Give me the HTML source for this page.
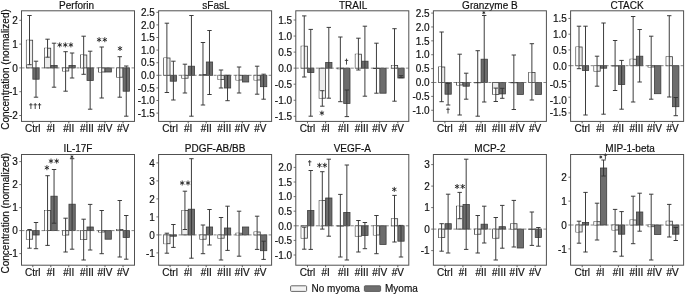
<!DOCTYPE html>
<html><head><meta charset="utf-8"><style>
html,body{margin:0;padding:0;background:#fff;}
svg{display:block;filter:grayscale(1);}
text{font-family:"Liberation Sans",sans-serif;font-size:10px;fill:#111;stroke:#111;stroke-width:0.18px;}
</style></head><body>
<svg width="685" height="294" viewBox="0 0 685 294">
<rect width="685" height="294" fill="#fff"/>
<text x="76.6" y="8.9" text-anchor="middle">Perforin</text>
<rect x="26.35" y="40.20" width="6.30" height="27.70" fill="#ececec" stroke="#3c3c3c" stroke-width="0.8"/>
<rect x="26.75" y="40.20" width="2.75" height="24.50" fill="#fff"/>
<rect x="32.85" y="67.90" width="6.30" height="11.30" fill="#6d6d6d" stroke="#3c3c3c" stroke-width="0.8"/>
<path d="M29.50 15.50V64.70M27.30 15.50h4.4M27.30 64.70h4.4" stroke="#333" stroke-width="0.95" fill="none"/>
<path d="M36.00 61.20V97.20M33.80 61.20h4.4M33.80 97.20h4.4" stroke="#333" stroke-width="0.95" fill="none"/>
<rect x="44.40" y="48.20" width="6.30" height="19.70" fill="#ececec" stroke="#3c3c3c" stroke-width="0.8"/>
<rect x="44.80" y="48.20" width="2.75" height="9.00" fill="#fff"/>
<rect x="50.90" y="65.50" width="6.30" height="2.40" fill="#6d6d6d" stroke="#3c3c3c" stroke-width="0.8"/>
<path d="M47.55 39.20V57.20M45.35 39.20h4.4M45.35 57.20h4.4" stroke="#333" stroke-width="0.95" fill="none"/>
<path d="M54.05 43.20V87.20M51.85 43.20h4.4M51.85 87.20h4.4" stroke="#333" stroke-width="0.95" fill="none"/>
<rect x="62.45" y="67.90" width="6.30" height="3.10" fill="#ececec" stroke="#3c3c3c" stroke-width="0.8"/>
<rect x="62.85" y="67.90" width="2.75" height="3.10" fill="#fff"/>
<rect x="68.95" y="65.50" width="6.30" height="2.40" fill="#6d6d6d" stroke="#3c3c3c" stroke-width="0.8"/>
<path d="M65.60 51.70V91.20M63.40 51.70h4.4M63.40 91.20h4.4" stroke="#333" stroke-width="0.95" fill="none"/>
<path d="M72.10 53.00V78.00M69.90 53.00h4.4M69.90 78.00h4.4" stroke="#333" stroke-width="0.95" fill="none"/>
<rect x="80.50" y="55.00" width="6.30" height="12.90" fill="#ececec" stroke="#3c3c3c" stroke-width="0.8"/>
<rect x="80.90" y="55.00" width="2.75" height="12.90" fill="#fff"/>
<rect x="87.00" y="67.90" width="6.30" height="12.60" fill="#6d6d6d" stroke="#3c3c3c" stroke-width="0.8"/>
<path d="M83.65 36.20V74.30M81.45 36.20h4.4M81.45 74.30h4.4" stroke="#333" stroke-width="0.95" fill="none"/>
<path d="M90.15 51.20V109.20M87.95 51.20h4.4M87.95 109.20h4.4" stroke="#333" stroke-width="0.95" fill="none"/>
<rect x="98.55" y="67.90" width="6.30" height="4.10" fill="#ececec" stroke="#3c3c3c" stroke-width="0.8"/>
<rect x="98.95" y="67.90" width="2.75" height="4.10" fill="#fff"/>
<rect x="105.05" y="67.90" width="6.30" height="4.10" fill="#6d6d6d" stroke="#3c3c3c" stroke-width="0.8"/>
<path d="M101.70 47.00V98.00M99.50 47.00h4.4M99.50 98.00h4.4" stroke="#333" stroke-width="0.95" fill="none"/>
<rect x="116.60" y="67.90" width="6.30" height="9.30" fill="#ececec" stroke="#3c3c3c" stroke-width="0.8"/>
<rect x="117.00" y="67.90" width="2.75" height="9.30" fill="#fff"/>
<rect x="123.10" y="67.90" width="6.30" height="23.30" fill="#6d6d6d" stroke="#3c3c3c" stroke-width="0.8"/>
<path d="M119.75 56.70V97.20M117.55 56.70h4.4M117.55 97.20h4.4" stroke="#333" stroke-width="0.95" fill="none"/>
<path d="M126.25 66.00V116.20M124.05 66.00h4.4M124.05 116.20h4.4" stroke="#333" stroke-width="0.95" fill="none"/>
<line x1="21.5" y1="67.90" x2="134.5" y2="67.90" stroke="#666" stroke-width="0.8" stroke-dasharray="3 2"/>
<rect x="21.50" y="10.80" width="113.00" height="110.60" fill="none" stroke="#505050" stroke-width="1"/>
<line x1="19.3" y1="115.50" x2="21.5" y2="115.50" stroke="#505050" stroke-width="0.8"/>
<text x="17.8" y="119.20" text-anchor="end">-2</text>
<line x1="19.3" y1="91.70" x2="21.5" y2="91.70" stroke="#505050" stroke-width="0.8"/>
<text x="17.8" y="95.40" text-anchor="end">-1</text>
<line x1="19.3" y1="67.90" x2="21.5" y2="67.90" stroke="#505050" stroke-width="0.8"/>
<text x="17.8" y="71.60" text-anchor="end">0</text>
<line x1="19.3" y1="44.10" x2="21.5" y2="44.10" stroke="#505050" stroke-width="0.8"/>
<text x="17.8" y="47.80" text-anchor="end">1</text>
<line x1="19.3" y1="20.30" x2="21.5" y2="20.30" stroke="#505050" stroke-width="0.8"/>
<text x="17.8" y="24.00" text-anchor="end">2</text>
<line x1="32.8" y1="121.4" x2="32.8" y2="123.4" stroke="#505050" stroke-width="0.9"/>
<text x="32.8" y="132.2" text-anchor="middle">Ctrl</text>
<line x1="50.8" y1="121.4" x2="50.8" y2="123.4" stroke="#505050" stroke-width="0.9"/>
<text x="50.8" y="132.2" text-anchor="middle">#I</text>
<line x1="68.8" y1="121.4" x2="68.8" y2="123.4" stroke="#505050" stroke-width="0.9"/>
<text x="68.8" y="132.2" text-anchor="middle">#II</text>
<line x1="86.9" y1="121.4" x2="86.9" y2="123.4" stroke="#505050" stroke-width="0.9"/>
<text x="86.9" y="132.2" text-anchor="middle">#III</text>
<line x1="105.0" y1="121.4" x2="105.0" y2="123.4" stroke="#505050" stroke-width="0.9"/>
<text x="105.0" y="132.2" text-anchor="middle">#IV</text>
<line x1="123.0" y1="121.4" x2="123.0" y2="123.4" stroke="#505050" stroke-width="0.9"/>
<text x="123.0" y="132.2" text-anchor="middle">#V</text>
<path d="M59.70 42.40V47.40M57.53 43.65L61.87 46.15M57.53 46.15L61.87 43.65" stroke="#1a1a1a" stroke-width="0.85" fill="none"/>
<path d="M65.30 42.40V47.40M63.13 43.65L67.47 46.15M63.13 46.15L67.47 43.65" stroke="#1a1a1a" stroke-width="0.85" fill="none"/>
<path d="M70.90 42.40V47.40M68.73 43.65L73.07 46.15M68.73 46.15L73.07 43.65" stroke="#1a1a1a" stroke-width="0.85" fill="none"/>
<path d="M99.10 37.20V42.20M96.93 38.45L101.27 40.95M96.93 40.95L101.27 38.45" stroke="#1a1a1a" stroke-width="0.85" fill="none"/>
<path d="M104.80 37.20V42.20M102.63 38.45L106.97 40.95M102.63 40.95L106.97 38.45" stroke="#1a1a1a" stroke-width="0.85" fill="none"/>
<path d="M120.00 46.00V51.00M117.83 47.25L122.17 49.75M117.83 49.75L122.17 47.25" stroke="#1a1a1a" stroke-width="0.85" fill="none"/>
<path d="M30.90 103.00V109.00M29.20 104.80h3.4" stroke="#333" stroke-width="0.9" fill="none"/>
<path d="M35.20 103.00V109.00M33.50 104.80h3.4" stroke="#333" stroke-width="0.9" fill="none"/>
<path d="M39.50 103.00V109.00M37.80 104.80h3.4" stroke="#333" stroke-width="0.9" fill="none"/>
<text x="215.9" y="8.9" text-anchor="middle">sFasL</text>
<rect x="163.72" y="58.00" width="6.30" height="17.30" fill="#ececec" stroke="#3c3c3c" stroke-width="0.8"/>
<rect x="164.12" y="58.00" width="2.75" height="17.30" fill="#fff"/>
<rect x="170.22" y="75.30" width="6.30" height="5.90" fill="#6d6d6d" stroke="#3c3c3c" stroke-width="0.8"/>
<path d="M166.88 23.20V92.50M164.68 23.20h4.4M164.68 92.50h4.4" stroke="#333" stroke-width="0.95" fill="none"/>
<path d="M173.38 61.20V100.00M171.18 61.20h4.4M171.18 100.00h4.4" stroke="#333" stroke-width="0.95" fill="none"/>
<rect x="181.78" y="75.30" width="6.30" height="2.90" fill="#ececec" stroke="#3c3c3c" stroke-width="0.8"/>
<rect x="182.18" y="75.30" width="2.75" height="2.90" fill="#fff"/>
<rect x="188.28" y="66.20" width="6.30" height="9.10" fill="#6d6d6d" stroke="#3c3c3c" stroke-width="0.8"/>
<path d="M184.93 64.20V93.00M182.73 64.20h4.4M182.73 93.00h4.4" stroke="#333" stroke-width="0.95" fill="none"/>
<path d="M191.43 15.50V116.20M189.23 15.50h4.4M189.23 116.20h4.4" stroke="#333" stroke-width="0.95" fill="none"/>
<rect x="199.82" y="74.50" width="6.30" height="0.80" fill="#ececec" stroke="#3c3c3c" stroke-width="0.8"/>
<rect x="200.22" y="74.50" width="2.75" height="0.80" fill="#fff"/>
<rect x="206.32" y="62.00" width="6.30" height="13.30" fill="#6d6d6d" stroke="#3c3c3c" stroke-width="0.8"/>
<path d="M202.97 42.50V105.00M200.78 42.50h4.4M200.78 105.00h4.4" stroke="#333" stroke-width="0.95" fill="none"/>
<path d="M209.47 30.50V94.50M207.28 30.50h4.4M207.28 94.50h4.4" stroke="#333" stroke-width="0.95" fill="none"/>
<rect x="217.88" y="75.30" width="6.30" height="4.20" fill="#ececec" stroke="#3c3c3c" stroke-width="0.8"/>
<rect x="218.28" y="75.30" width="2.75" height="4.20" fill="#fff"/>
<rect x="224.38" y="75.30" width="6.30" height="12.70" fill="#6d6d6d" stroke="#3c3c3c" stroke-width="0.8"/>
<path d="M221.03 70.00V88.00M218.83 70.00h4.4M218.83 88.00h4.4" stroke="#333" stroke-width="0.95" fill="none"/>
<path d="M227.53 75.30V100.70M225.33 75.30h4.4M225.33 100.70h4.4" stroke="#333" stroke-width="0.95" fill="none"/>
<rect x="235.92" y="75.30" width="6.30" height="4.70" fill="#ececec" stroke="#3c3c3c" stroke-width="0.8"/>
<rect x="236.32" y="75.30" width="2.75" height="4.70" fill="#fff"/>
<rect x="242.42" y="75.30" width="6.30" height="6.70" fill="#6d6d6d" stroke="#3c3c3c" stroke-width="0.8"/>
<path d="M239.07 67.00V93.00M236.88 67.00h4.4M236.88 93.00h4.4" stroke="#333" stroke-width="0.95" fill="none"/>
<rect x="253.97" y="75.30" width="6.30" height="4.70" fill="#ececec" stroke="#3c3c3c" stroke-width="0.8"/>
<rect x="254.38" y="75.30" width="2.75" height="4.70" fill="#fff"/>
<rect x="260.48" y="75.30" width="6.30" height="11.40" fill="#6d6d6d" stroke="#3c3c3c" stroke-width="0.8"/>
<path d="M257.12 66.20V94.20M254.93 66.20h4.4M254.93 94.20h4.4" stroke="#333" stroke-width="0.95" fill="none"/>
<path d="M263.62 74.20V99.20M261.43 74.20h4.4M261.43 99.20h4.4" stroke="#333" stroke-width="0.95" fill="none"/>
<line x1="158.6" y1="75.30" x2="271.6" y2="75.30" stroke="#666" stroke-width="0.8" stroke-dasharray="3 2"/>
<rect x="158.60" y="10.80" width="113.00" height="110.60" fill="none" stroke="#505050" stroke-width="1"/>
<line x1="156.4" y1="113.10" x2="158.6" y2="113.10" stroke="#505050" stroke-width="0.8"/>
<text x="154.9" y="116.80" text-anchor="end">-1.5</text>
<line x1="156.4" y1="100.50" x2="158.6" y2="100.50" stroke="#505050" stroke-width="0.8"/>
<text x="154.9" y="104.20" text-anchor="end">-1.0</text>
<line x1="156.4" y1="87.90" x2="158.6" y2="87.90" stroke="#505050" stroke-width="0.8"/>
<text x="154.9" y="91.60" text-anchor="end">-0.5</text>
<line x1="156.4" y1="75.30" x2="158.6" y2="75.30" stroke="#505050" stroke-width="0.8"/>
<text x="154.9" y="79.00" text-anchor="end">0.0</text>
<line x1="156.4" y1="62.70" x2="158.6" y2="62.70" stroke="#505050" stroke-width="0.8"/>
<text x="154.9" y="66.40" text-anchor="end">0.5</text>
<line x1="156.4" y1="50.10" x2="158.6" y2="50.10" stroke="#505050" stroke-width="0.8"/>
<text x="154.9" y="53.80" text-anchor="end">1.0</text>
<line x1="156.4" y1="37.50" x2="158.6" y2="37.50" stroke="#505050" stroke-width="0.8"/>
<text x="154.9" y="41.20" text-anchor="end">1.5</text>
<line x1="156.4" y1="24.90" x2="158.6" y2="24.90" stroke="#505050" stroke-width="0.8"/>
<text x="154.9" y="28.60" text-anchor="end">2.0</text>
<line x1="156.4" y1="12.30" x2="158.6" y2="12.30" stroke="#505050" stroke-width="0.8"/>
<text x="154.9" y="16.00" text-anchor="end">2.5</text>
<line x1="170.1" y1="121.4" x2="170.1" y2="123.4" stroke="#505050" stroke-width="0.9"/>
<text x="170.1" y="132.2" text-anchor="middle">Ctrl</text>
<line x1="188.2" y1="121.4" x2="188.2" y2="123.4" stroke="#505050" stroke-width="0.9"/>
<text x="188.2" y="132.2" text-anchor="middle">#I</text>
<line x1="206.2" y1="121.4" x2="206.2" y2="123.4" stroke="#505050" stroke-width="0.9"/>
<text x="206.2" y="132.2" text-anchor="middle">#II</text>
<line x1="224.3" y1="121.4" x2="224.3" y2="123.4" stroke="#505050" stroke-width="0.9"/>
<text x="224.3" y="132.2" text-anchor="middle">#III</text>
<line x1="242.3" y1="121.4" x2="242.3" y2="123.4" stroke="#505050" stroke-width="0.9"/>
<text x="242.3" y="132.2" text-anchor="middle">#IV</text>
<line x1="260.4" y1="121.4" x2="260.4" y2="123.4" stroke="#505050" stroke-width="0.9"/>
<text x="260.4" y="132.2" text-anchor="middle">#V</text>
<text x="353.1" y="8.9" text-anchor="middle">TRAIL</text>
<rect x="301.10" y="46.20" width="6.30" height="21.95" fill="#ececec" stroke="#3c3c3c" stroke-width="0.8"/>
<rect x="301.50" y="46.20" width="2.75" height="21.95" fill="#fff"/>
<rect x="307.60" y="68.15" width="6.30" height="4.35" fill="#6d6d6d" stroke="#3c3c3c" stroke-width="0.8"/>
<path d="M304.25 15.90V77.00M302.05 15.90h4.4M302.05 77.00h4.4" stroke="#333" stroke-width="0.95" fill="none"/>
<path d="M310.75 29.40V116.20M308.55 29.40h4.4M308.55 116.20h4.4" stroke="#333" stroke-width="0.95" fill="none"/>
<rect x="319.15" y="68.15" width="6.30" height="30.05" fill="#ececec" stroke="#3c3c3c" stroke-width="0.8"/>
<rect x="319.55" y="90.70" width="2.75" height="7.50" fill="#fff"/>
<rect x="325.65" y="62.50" width="6.30" height="5.65" fill="#6d6d6d" stroke="#3c3c3c" stroke-width="0.8"/>
<path d="M322.30 90.70V106.20M320.10 90.70h4.4M320.10 106.20h4.4" stroke="#333" stroke-width="0.95" fill="none"/>
<path d="M328.80 27.40V98.20M326.60 27.40h4.4M326.60 98.20h4.4" stroke="#333" stroke-width="0.95" fill="none"/>
<rect x="337.20" y="68.15" width="6.30" height="0.65" fill="#ececec" stroke="#3c3c3c" stroke-width="0.8"/>
<rect x="337.60" y="68.15" width="2.75" height="0.65" fill="#fff"/>
<rect x="343.70" y="68.15" width="6.30" height="35.25" fill="#6d6d6d" stroke="#3c3c3c" stroke-width="0.8"/>
<path d="M340.35 37.00V101.70M338.15 37.00h4.4M338.15 101.70h4.4" stroke="#333" stroke-width="0.95" fill="none"/>
<path d="M346.85 90.00V116.60M344.65 90.00h4.4M344.65 116.60h4.4" stroke="#333" stroke-width="0.95" fill="none"/>
<rect x="355.25" y="54.20" width="6.30" height="13.95" fill="#ececec" stroke="#3c3c3c" stroke-width="0.8"/>
<rect x="355.65" y="54.20" width="2.75" height="13.95" fill="#fff"/>
<rect x="361.75" y="61.20" width="6.30" height="6.95" fill="#6d6d6d" stroke="#3c3c3c" stroke-width="0.8"/>
<path d="M358.40 38.20V70.00M356.20 38.20h4.4M356.20 70.00h4.4" stroke="#333" stroke-width="0.95" fill="none"/>
<path d="M364.90 26.20V96.20M362.70 26.20h4.4M362.70 96.20h4.4" stroke="#333" stroke-width="0.95" fill="none"/>
<rect x="373.30" y="68.15" width="6.30" height="0.45" fill="#ececec" stroke="#3c3c3c" stroke-width="0.8"/>
<rect x="379.80" y="68.15" width="6.30" height="25.05" fill="#6d6d6d" stroke="#3c3c3c" stroke-width="0.8"/>
<path d="M376.45 43.20V93.20M374.25 43.20h4.4M374.25 93.20h4.4" stroke="#333" stroke-width="0.95" fill="none"/>
<rect x="391.35" y="65.50" width="6.30" height="2.65" fill="#ececec" stroke="#3c3c3c" stroke-width="0.8"/>
<rect x="391.75" y="65.50" width="2.75" height="2.65" fill="#fff"/>
<rect x="397.85" y="68.15" width="6.30" height="9.85" fill="#6d6d6d" stroke="#3c3c3c" stroke-width="0.8"/>
<path d="M394.50 28.70V101.20M392.30 28.70h4.4M392.30 101.20h4.4" stroke="#333" stroke-width="0.95" fill="none"/>
<path d="M401.00 75.70V77.70M398.80 75.70h4.4M398.80 77.70h4.4" stroke="#333" stroke-width="0.95" fill="none"/>
<line x1="295.8" y1="68.15" x2="408.8" y2="68.15" stroke="#666" stroke-width="0.8" stroke-dasharray="3 2"/>
<rect x="295.80" y="10.80" width="113.00" height="110.60" fill="none" stroke="#505050" stroke-width="1"/>
<line x1="293.6" y1="116.30" x2="295.8" y2="116.30" stroke="#505050" stroke-width="0.8"/>
<text x="292.1" y="120.00" text-anchor="end">-1.5</text>
<line x1="293.6" y1="100.25" x2="295.8" y2="100.25" stroke="#505050" stroke-width="0.8"/>
<text x="292.1" y="103.95" text-anchor="end">-1.0</text>
<line x1="293.6" y1="84.20" x2="295.8" y2="84.20" stroke="#505050" stroke-width="0.8"/>
<text x="292.1" y="87.90" text-anchor="end">-0.5</text>
<line x1="293.6" y1="68.15" x2="295.8" y2="68.15" stroke="#505050" stroke-width="0.8"/>
<text x="292.1" y="71.85" text-anchor="end">0.0</text>
<line x1="293.6" y1="52.10" x2="295.8" y2="52.10" stroke="#505050" stroke-width="0.8"/>
<text x="292.1" y="55.80" text-anchor="end">0.5</text>
<line x1="293.6" y1="36.05" x2="295.8" y2="36.05" stroke="#505050" stroke-width="0.8"/>
<text x="292.1" y="39.75" text-anchor="end">1.0</text>
<line x1="293.6" y1="20.00" x2="295.8" y2="20.00" stroke="#505050" stroke-width="0.8"/>
<text x="292.1" y="23.70" text-anchor="end">1.5</text>
<line x1="307.5" y1="121.4" x2="307.5" y2="123.4" stroke="#505050" stroke-width="0.9"/>
<text x="307.5" y="132.2" text-anchor="middle">Ctrl</text>
<line x1="325.6" y1="121.4" x2="325.6" y2="123.4" stroke="#505050" stroke-width="0.9"/>
<text x="325.6" y="132.2" text-anchor="middle">#I</text>
<line x1="343.6" y1="121.4" x2="343.6" y2="123.4" stroke="#505050" stroke-width="0.9"/>
<text x="343.6" y="132.2" text-anchor="middle">#II</text>
<line x1="361.6" y1="121.4" x2="361.6" y2="123.4" stroke="#505050" stroke-width="0.9"/>
<text x="361.6" y="132.2" text-anchor="middle">#III</text>
<line x1="379.7" y1="121.4" x2="379.7" y2="123.4" stroke="#505050" stroke-width="0.9"/>
<text x="379.7" y="132.2" text-anchor="middle">#IV</text>
<line x1="397.8" y1="121.4" x2="397.8" y2="123.4" stroke="#505050" stroke-width="0.9"/>
<text x="397.8" y="132.2" text-anchor="middle">#V</text>
<path d="M346.50 58.60V64.60M344.80 60.40h3.4" stroke="#333" stroke-width="0.9" fill="none"/>
<path d="M321.90 110.60V115.60M319.73 111.85L324.07 114.35M319.73 114.35L324.07 111.85" stroke="#1a1a1a" stroke-width="0.85" fill="none"/>
<text x="489.9" y="8.9" text-anchor="middle">Granzyme B</text>
<rect x="438.48" y="67.00" width="6.30" height="15.50" fill="#ececec" stroke="#3c3c3c" stroke-width="0.8"/>
<rect x="438.88" y="67.00" width="2.75" height="15.50" fill="#fff"/>
<rect x="444.98" y="82.50" width="6.30" height="11.70" fill="#6d6d6d" stroke="#3c3c3c" stroke-width="0.8"/>
<path d="M441.62 32.00V101.70M439.43 32.00h4.4M439.43 101.70h4.4" stroke="#333" stroke-width="0.95" fill="none"/>
<path d="M448.12 83.40V105.00M445.93 83.40h4.4M445.93 105.00h4.4" stroke="#333" stroke-width="0.95" fill="none"/>
<rect x="456.53" y="82.50" width="6.30" height="2.50" fill="#ececec" stroke="#3c3c3c" stroke-width="0.8"/>
<rect x="456.93" y="82.50" width="2.75" height="2.50" fill="#fff"/>
<rect x="463.03" y="82.50" width="6.30" height="3.70" fill="#6d6d6d" stroke="#3c3c3c" stroke-width="0.8"/>
<path d="M459.68 54.20V115.00M457.48 54.20h4.4M457.48 115.00h4.4" stroke="#333" stroke-width="0.95" fill="none"/>
<path d="M466.18 73.20V99.20M463.98 73.20h4.4M463.98 99.20h4.4" stroke="#333" stroke-width="0.95" fill="none"/>
<rect x="474.58" y="82.50" width="6.30" height="0.30" fill="#ececec" stroke="#3c3c3c" stroke-width="0.8"/>
<rect x="481.08" y="59.20" width="6.30" height="23.30" fill="#6d6d6d" stroke="#3c3c3c" stroke-width="0.8"/>
<path d="M477.73 50.70V116.20M475.53 50.70h4.4M475.53 116.20h4.4" stroke="#333" stroke-width="0.95" fill="none"/>
<path d="M484.23 15.50V102.00M482.03 15.50h4.4M482.03 102.00h4.4" stroke="#333" stroke-width="0.95" fill="none"/>
<rect x="492.62" y="82.50" width="6.30" height="11.90" fill="#ececec" stroke="#3c3c3c" stroke-width="0.8"/>
<rect x="493.02" y="88.10" width="2.75" height="6.30" fill="#fff"/>
<rect x="499.12" y="82.50" width="6.30" height="11.40" fill="#6d6d6d" stroke="#3c3c3c" stroke-width="0.8"/>
<path d="M495.77 88.10V101.50M493.57 88.10h4.4M493.57 101.50h4.4" stroke="#333" stroke-width="0.95" fill="none"/>
<path d="M502.27 88.30V98.30M500.07 88.30h4.4M500.07 98.30h4.4" stroke="#333" stroke-width="0.95" fill="none"/>
<rect x="510.68" y="82.50" width="6.30" height="0.30" fill="#ececec" stroke="#3c3c3c" stroke-width="0.8"/>
<rect x="517.18" y="82.50" width="6.30" height="11.90" fill="#6d6d6d" stroke="#3c3c3c" stroke-width="0.8"/>
<path d="M513.83 55.00V109.50M511.63 55.00h4.4M511.63 109.50h4.4" stroke="#333" stroke-width="0.95" fill="none"/>
<rect x="528.73" y="72.50" width="6.30" height="10.00" fill="#ececec" stroke="#3c3c3c" stroke-width="0.8"/>
<rect x="529.12" y="72.50" width="2.75" height="10.00" fill="#fff"/>
<rect x="535.23" y="82.50" width="6.30" height="11.90" fill="#6d6d6d" stroke="#3c3c3c" stroke-width="0.8"/>
<path d="M531.88 43.70V100.00M529.67 43.70h4.4M529.67 100.00h4.4" stroke="#333" stroke-width="0.95" fill="none"/>
<line x1="433.4" y1="82.50" x2="546.4" y2="82.50" stroke="#666" stroke-width="0.8" stroke-dasharray="3 2"/>
<rect x="433.40" y="10.80" width="113.00" height="110.60" fill="none" stroke="#505050" stroke-width="1"/>
<line x1="431.2" y1="110.27" x2="433.4" y2="110.27" stroke="#505050" stroke-width="0.8"/>
<text x="429.7" y="113.97" text-anchor="end">-1.0</text>
<line x1="431.2" y1="96.39" x2="433.4" y2="96.39" stroke="#505050" stroke-width="0.8"/>
<text x="429.7" y="100.09" text-anchor="end">-0.5</text>
<line x1="431.2" y1="82.50" x2="433.4" y2="82.50" stroke="#505050" stroke-width="0.8"/>
<text x="429.7" y="86.20" text-anchor="end">0.0</text>
<line x1="431.2" y1="68.61" x2="433.4" y2="68.61" stroke="#505050" stroke-width="0.8"/>
<text x="429.7" y="72.31" text-anchor="end">0.5</text>
<line x1="431.2" y1="54.73" x2="433.4" y2="54.73" stroke="#505050" stroke-width="0.8"/>
<text x="429.7" y="58.43" text-anchor="end">1.0</text>
<line x1="431.2" y1="40.84" x2="433.4" y2="40.84" stroke="#505050" stroke-width="0.8"/>
<text x="429.7" y="44.55" text-anchor="end">1.5</text>
<line x1="431.2" y1="26.96" x2="433.4" y2="26.96" stroke="#505050" stroke-width="0.8"/>
<text x="429.7" y="30.66" text-anchor="end">2.0</text>
<line x1="431.2" y1="13.08" x2="433.4" y2="13.08" stroke="#505050" stroke-width="0.8"/>
<text x="429.7" y="16.78" text-anchor="end">2.5</text>
<line x1="444.9" y1="121.4" x2="444.9" y2="123.4" stroke="#505050" stroke-width="0.9"/>
<text x="444.9" y="132.2" text-anchor="middle">Ctrl</text>
<line x1="462.9" y1="121.4" x2="462.9" y2="123.4" stroke="#505050" stroke-width="0.9"/>
<text x="462.9" y="132.2" text-anchor="middle">#I</text>
<line x1="481.0" y1="121.4" x2="481.0" y2="123.4" stroke="#505050" stroke-width="0.9"/>
<text x="481.0" y="132.2" text-anchor="middle">#II</text>
<line x1="499.0" y1="121.4" x2="499.0" y2="123.4" stroke="#505050" stroke-width="0.9"/>
<text x="499.0" y="132.2" text-anchor="middle">#III</text>
<line x1="517.1" y1="121.4" x2="517.1" y2="123.4" stroke="#505050" stroke-width="0.9"/>
<text x="517.1" y="132.2" text-anchor="middle">#IV</text>
<line x1="535.1" y1="121.4" x2="535.1" y2="123.4" stroke="#505050" stroke-width="0.9"/>
<text x="535.1" y="132.2" text-anchor="middle">#V</text>
<path d="M448.00 107.50V113.50M446.30 109.30h3.4" stroke="#333" stroke-width="0.9" fill="none"/>
<path d="M483.80 11.10V14.30M482.41 11.90L485.19 13.50M482.41 13.50L485.19 11.90" stroke="#1a1a1a" stroke-width="0.8" fill="none"/>
<text x="627.1" y="8.9" text-anchor="middle">CTACK</text>
<rect x="575.85" y="47.00" width="6.30" height="18.70" fill="#ececec" stroke="#3c3c3c" stroke-width="0.8"/>
<rect x="576.25" y="47.00" width="2.75" height="18.70" fill="#fff"/>
<rect x="582.35" y="65.70" width="6.30" height="4.80" fill="#6d6d6d" stroke="#3c3c3c" stroke-width="0.8"/>
<path d="M579.00 26.20V68.70M576.80 26.20h4.4M576.80 68.70h4.4" stroke="#333" stroke-width="0.95" fill="none"/>
<path d="M585.50 26.20V115.00M583.30 26.20h4.4M583.30 115.00h4.4" stroke="#333" stroke-width="0.95" fill="none"/>
<rect x="593.90" y="65.70" width="6.30" height="5.50" fill="#ececec" stroke="#3c3c3c" stroke-width="0.8"/>
<rect x="594.30" y="65.70" width="2.75" height="5.50" fill="#fff"/>
<rect x="600.40" y="65.70" width="6.30" height="2.50" fill="#6d6d6d" stroke="#3c3c3c" stroke-width="0.8"/>
<path d="M597.05 56.20V86.20M594.85 56.20h4.4M594.85 86.20h4.4" stroke="#333" stroke-width="0.95" fill="none"/>
<path d="M603.55 23.00V114.20M601.35 23.00h4.4M601.35 114.20h4.4" stroke="#333" stroke-width="0.95" fill="none"/>
<rect x="611.95" y="65.70" width="6.30" height="0.30" fill="#ececec" stroke="#3c3c3c" stroke-width="0.8"/>
<rect x="618.45" y="65.70" width="6.30" height="18.80" fill="#6d6d6d" stroke="#3c3c3c" stroke-width="0.8"/>
<path d="M615.10 40.50V90.50M612.90 40.50h4.4M612.90 90.50h4.4" stroke="#333" stroke-width="0.95" fill="none"/>
<path d="M621.60 60.40V109.20M619.40 60.40h4.4M619.40 109.20h4.4" stroke="#333" stroke-width="0.95" fill="none"/>
<rect x="630.00" y="59.20" width="6.30" height="6.50" fill="#ececec" stroke="#3c3c3c" stroke-width="0.8"/>
<rect x="630.40" y="59.20" width="2.75" height="6.50" fill="#fff"/>
<rect x="636.50" y="56.20" width="6.30" height="9.50" fill="#6d6d6d" stroke="#3c3c3c" stroke-width="0.8"/>
<path d="M633.15 16.50V102.00M630.95 16.50h4.4M630.95 102.00h4.4" stroke="#333" stroke-width="0.95" fill="none"/>
<path d="M639.65 29.50V82.00M637.45 29.50h4.4M637.45 82.00h4.4" stroke="#333" stroke-width="0.95" fill="none"/>
<rect x="648.05" y="65.70" width="6.30" height="1.30" fill="#ececec" stroke="#3c3c3c" stroke-width="0.8"/>
<rect x="648.45" y="65.70" width="2.75" height="1.30" fill="#fff"/>
<rect x="654.55" y="65.70" width="6.30" height="28.00" fill="#6d6d6d" stroke="#3c3c3c" stroke-width="0.8"/>
<path d="M651.20 36.20V99.20M649.00 36.20h4.4M649.00 99.20h4.4" stroke="#333" stroke-width="0.95" fill="none"/>
<rect x="666.10" y="56.70" width="6.30" height="9.00" fill="#ececec" stroke="#3c3c3c" stroke-width="0.8"/>
<rect x="666.50" y="56.70" width="2.75" height="9.00" fill="#fff"/>
<rect x="672.60" y="65.70" width="6.30" height="41.00" fill="#6d6d6d" stroke="#3c3c3c" stroke-width="0.8"/>
<path d="M669.25 15.70V97.00M667.05 15.70h4.4M667.05 97.00h4.4" stroke="#333" stroke-width="0.95" fill="none"/>
<path d="M675.75 97.50V115.70M673.55 97.50h4.4M673.55 115.70h4.4" stroke="#333" stroke-width="0.95" fill="none"/>
<line x1="570.6" y1="65.70" x2="683.6" y2="65.70" stroke="#666" stroke-width="0.8" stroke-dasharray="3 2"/>
<rect x="570.60" y="10.80" width="113.00" height="110.60" fill="none" stroke="#505050" stroke-width="1"/>
<line x1="568.4" y1="112.95" x2="570.6" y2="112.95" stroke="#505050" stroke-width="0.8"/>
<text x="566.9" y="116.30" text-anchor="end">-1.5</text>
<line x1="568.4" y1="97.20" x2="570.6" y2="97.20" stroke="#505050" stroke-width="0.8"/>
<text x="566.9" y="104.00" text-anchor="end">-1.0</text>
<line x1="568.4" y1="81.45" x2="570.6" y2="81.45" stroke="#505050" stroke-width="0.8"/>
<text x="566.9" y="88.00" text-anchor="end">-0.5</text>
<line x1="568.4" y1="65.70" x2="570.6" y2="65.70" stroke="#505050" stroke-width="0.8"/>
<text x="566.9" y="70.10" text-anchor="end">0.0</text>
<line x1="568.4" y1="49.95" x2="570.6" y2="49.95" stroke="#505050" stroke-width="0.8"/>
<text x="566.9" y="53.65" text-anchor="end">0.5</text>
<line x1="568.4" y1="34.20" x2="570.6" y2="34.20" stroke="#505050" stroke-width="0.8"/>
<text x="566.9" y="37.90" text-anchor="end">1.0</text>
<line x1="568.4" y1="18.45" x2="570.6" y2="18.45" stroke="#505050" stroke-width="0.8"/>
<text x="566.9" y="22.15" text-anchor="end">1.5</text>
<line x1="582.2" y1="121.4" x2="582.2" y2="123.4" stroke="#505050" stroke-width="0.9"/>
<text x="582.2" y="132.2" text-anchor="middle">Ctrl</text>
<line x1="600.3" y1="121.4" x2="600.3" y2="123.4" stroke="#505050" stroke-width="0.9"/>
<text x="600.3" y="132.2" text-anchor="middle">#I</text>
<line x1="618.4" y1="121.4" x2="618.4" y2="123.4" stroke="#505050" stroke-width="0.9"/>
<text x="618.4" y="132.2" text-anchor="middle">#II</text>
<line x1="636.4" y1="121.4" x2="636.4" y2="123.4" stroke="#505050" stroke-width="0.9"/>
<text x="636.4" y="132.2" text-anchor="middle">#III</text>
<line x1="654.5" y1="121.4" x2="654.5" y2="123.4" stroke="#505050" stroke-width="0.9"/>
<text x="654.5" y="132.2" text-anchor="middle">#IV</text>
<line x1="672.5" y1="121.4" x2="672.5" y2="123.4" stroke="#505050" stroke-width="0.9"/>
<text x="672.5" y="132.2" text-anchor="middle">#V</text>
<text x="78.0" y="151.8" text-anchor="middle">IL-17F</text>
<rect x="26.35" y="230.60" width="6.30" height="8.60" fill="#ececec" stroke="#3c3c3c" stroke-width="0.8"/>
<rect x="26.75" y="230.60" width="2.75" height="8.60" fill="#fff"/>
<rect x="32.85" y="230.60" width="6.30" height="4.40" fill="#6d6d6d" stroke="#3c3c3c" stroke-width="0.8"/>
<path d="M29.50 229.50V248.20M27.30 229.50h4.4M27.30 248.20h4.4" stroke="#333" stroke-width="0.95" fill="none"/>
<path d="M36.00 222.50V248.70M33.80 222.50h4.4M33.80 248.70h4.4" stroke="#333" stroke-width="0.95" fill="none"/>
<rect x="44.40" y="210.50" width="6.30" height="20.10" fill="#ececec" stroke="#3c3c3c" stroke-width="0.8"/>
<rect x="44.80" y="210.50" width="2.75" height="20.10" fill="#fff"/>
<rect x="50.90" y="196.20" width="6.30" height="34.40" fill="#6d6d6d" stroke="#3c3c3c" stroke-width="0.8"/>
<path d="M47.55 175.70V245.40M45.35 175.70h4.4M45.35 245.40h4.4" stroke="#333" stroke-width="0.95" fill="none"/>
<path d="M54.05 169.50V223.20M51.85 169.50h4.4M51.85 223.20h4.4" stroke="#333" stroke-width="0.95" fill="none"/>
<rect x="62.45" y="230.60" width="6.30" height="4.40" fill="#ececec" stroke="#3c3c3c" stroke-width="0.8"/>
<rect x="62.85" y="230.60" width="2.75" height="4.40" fill="#fff"/>
<rect x="68.95" y="204.20" width="6.30" height="26.40" fill="#6d6d6d" stroke="#3c3c3c" stroke-width="0.8"/>
<path d="M65.60 218.20V252.00M63.40 218.20h4.4M63.40 252.00h4.4" stroke="#333" stroke-width="0.95" fill="none"/>
<path d="M72.10 158.70V249.20M69.90 158.70h4.4M69.90 249.20h4.4" stroke="#333" stroke-width="0.95" fill="none"/>
<rect x="80.50" y="230.60" width="6.30" height="8.80" fill="#ececec" stroke="#3c3c3c" stroke-width="0.8"/>
<rect x="80.90" y="230.60" width="2.75" height="8.80" fill="#fff"/>
<rect x="87.00" y="227.00" width="6.30" height="3.60" fill="#6d6d6d" stroke="#3c3c3c" stroke-width="0.8"/>
<path d="M83.65 219.20V260.00M81.45 219.20h4.4M81.45 260.00h4.4" stroke="#333" stroke-width="0.95" fill="none"/>
<path d="M90.15 204.40V250.00M87.95 204.40h4.4M87.95 250.00h4.4" stroke="#333" stroke-width="0.95" fill="none"/>
<rect x="98.55" y="230.60" width="6.30" height="1.40" fill="#ececec" stroke="#3c3c3c" stroke-width="0.8"/>
<rect x="98.95" y="230.60" width="2.75" height="1.40" fill="#fff"/>
<rect x="105.05" y="230.60" width="6.30" height="8.60" fill="#6d6d6d" stroke="#3c3c3c" stroke-width="0.8"/>
<path d="M101.70 210.50V253.70M99.50 210.50h4.4M99.50 253.70h4.4" stroke="#333" stroke-width="0.95" fill="none"/>
<rect x="116.60" y="229.50" width="6.30" height="1.10" fill="#ececec" stroke="#3c3c3c" stroke-width="0.8"/>
<rect x="117.00" y="229.50" width="2.75" height="1.10" fill="#fff"/>
<rect x="123.10" y="230.60" width="6.30" height="6.80" fill="#6d6d6d" stroke="#3c3c3c" stroke-width="0.8"/>
<path d="M119.75 200.50V257.00M117.55 200.50h4.4M117.55 257.00h4.4" stroke="#333" stroke-width="0.95" fill="none"/>
<path d="M126.25 215.50V259.20M124.05 215.50h4.4M124.05 259.20h4.4" stroke="#333" stroke-width="0.95" fill="none"/>
<line x1="21.5" y1="230.60" x2="134.5" y2="230.60" stroke="#666" stroke-width="0.8" stroke-dasharray="3 2"/>
<rect x="21.50" y="154.50" width="113.00" height="110.70" fill="none" stroke="#505050" stroke-width="1"/>
<line x1="19.3" y1="253.60" x2="21.5" y2="253.60" stroke="#505050" stroke-width="0.8"/>
<text x="17.8" y="257.30" text-anchor="end">-1</text>
<line x1="19.3" y1="230.60" x2="21.5" y2="230.60" stroke="#505050" stroke-width="0.8"/>
<text x="17.8" y="234.30" text-anchor="end">0</text>
<line x1="19.3" y1="207.60" x2="21.5" y2="207.60" stroke="#505050" stroke-width="0.8"/>
<text x="17.8" y="211.30" text-anchor="end">1</text>
<line x1="19.3" y1="184.60" x2="21.5" y2="184.60" stroke="#505050" stroke-width="0.8"/>
<text x="17.8" y="188.30" text-anchor="end">2</text>
<line x1="19.3" y1="161.60" x2="21.5" y2="161.60" stroke="#505050" stroke-width="0.8"/>
<text x="17.8" y="165.30" text-anchor="end">3</text>
<line x1="32.8" y1="265.2" x2="32.8" y2="267.2" stroke="#505050" stroke-width="0.9"/>
<text x="32.8" y="276.0" text-anchor="middle">Ctrl</text>
<line x1="50.8" y1="265.2" x2="50.8" y2="267.2" stroke="#505050" stroke-width="0.9"/>
<text x="50.8" y="276.0" text-anchor="middle">#I</text>
<line x1="68.8" y1="265.2" x2="68.8" y2="267.2" stroke="#505050" stroke-width="0.9"/>
<text x="68.8" y="276.0" text-anchor="middle">#II</text>
<line x1="86.9" y1="265.2" x2="86.9" y2="267.2" stroke="#505050" stroke-width="0.9"/>
<text x="86.9" y="276.0" text-anchor="middle">#III</text>
<line x1="105.0" y1="265.2" x2="105.0" y2="267.2" stroke="#505050" stroke-width="0.9"/>
<text x="105.0" y="276.0" text-anchor="middle">#IV</text>
<line x1="123.0" y1="265.2" x2="123.0" y2="267.2" stroke="#505050" stroke-width="0.9"/>
<text x="123.0" y="276.0" text-anchor="middle">#V</text>
<path d="M51.00 158.60V163.60M48.83 159.85L53.17 162.35M48.83 162.35L53.17 159.85" stroke="#1a1a1a" stroke-width="0.85" fill="none"/>
<path d="M56.70 158.60V163.60M54.53 159.85L58.87 162.35M54.53 162.35L58.87 159.85" stroke="#1a1a1a" stroke-width="0.85" fill="none"/>
<path d="M46.90 165.20V170.20M44.73 166.45L49.07 168.95M44.73 168.95L49.07 166.45" stroke="#1a1a1a" stroke-width="0.85" fill="none"/>
<path d="M71.90 155.20V158.40M70.51 156.00L73.29 157.60M70.51 157.60L73.29 156.00" stroke="#1a1a1a" stroke-width="0.8" fill="none"/>
<text x="215.1" y="151.8" text-anchor="middle">PDGF-AB/BB</text>
<rect x="163.72" y="234.90" width="6.30" height="8.80" fill="#ececec" stroke="#3c3c3c" stroke-width="0.8"/>
<rect x="164.12" y="234.90" width="2.75" height="8.80" fill="#fff"/>
<rect x="170.22" y="234.90" width="6.30" height="1.30" fill="#6d6d6d" stroke="#3c3c3c" stroke-width="0.8"/>
<path d="M166.88 233.20V253.20M164.68 233.20h4.4M164.68 253.20h4.4" stroke="#333" stroke-width="0.95" fill="none"/>
<path d="M173.38 224.50V247.40M171.18 224.50h4.4M171.18 247.40h4.4" stroke="#333" stroke-width="0.95" fill="none"/>
<rect x="181.78" y="210.50" width="6.30" height="24.40" fill="#ececec" stroke="#3c3c3c" stroke-width="0.8"/>
<rect x="182.18" y="210.50" width="2.75" height="19.00" fill="#fff"/>
<rect x="188.28" y="209.20" width="6.30" height="25.70" fill="#6d6d6d" stroke="#3c3c3c" stroke-width="0.8"/>
<path d="M184.93 191.20V229.50M182.73 191.20h4.4M182.73 229.50h4.4" stroke="#333" stroke-width="0.95" fill="none"/>
<path d="M191.43 158.70V258.20M189.23 158.70h4.4M189.23 258.20h4.4" stroke="#333" stroke-width="0.95" fill="none"/>
<rect x="199.82" y="234.90" width="6.30" height="4.30" fill="#ececec" stroke="#3c3c3c" stroke-width="0.8"/>
<rect x="200.22" y="234.90" width="2.75" height="4.30" fill="#fff"/>
<rect x="206.32" y="227.00" width="6.30" height="7.90" fill="#6d6d6d" stroke="#3c3c3c" stroke-width="0.8"/>
<path d="M202.97 225.00V253.70M200.78 225.00h4.4M200.78 253.70h4.4" stroke="#333" stroke-width="0.95" fill="none"/>
<path d="M209.47 209.50V245.00M207.28 209.50h4.4M207.28 245.00h4.4" stroke="#333" stroke-width="0.95" fill="none"/>
<rect x="217.88" y="234.90" width="6.30" height="3.30" fill="#ececec" stroke="#3c3c3c" stroke-width="0.8"/>
<rect x="218.28" y="234.90" width="2.75" height="3.30" fill="#fff"/>
<rect x="224.38" y="228.00" width="6.30" height="6.90" fill="#6d6d6d" stroke="#3c3c3c" stroke-width="0.8"/>
<path d="M221.03 217.50V260.00M218.83 217.50h4.4M218.83 260.00h4.4" stroke="#333" stroke-width="0.95" fill="none"/>
<path d="M227.53 206.20V250.40M225.33 206.20h4.4M225.33 250.40h4.4" stroke="#333" stroke-width="0.95" fill="none"/>
<rect x="235.92" y="233.20" width="6.30" height="1.70" fill="#ececec" stroke="#3c3c3c" stroke-width="0.8"/>
<rect x="236.32" y="233.20" width="2.75" height="1.70" fill="#fff"/>
<rect x="242.42" y="227.00" width="6.30" height="7.90" fill="#6d6d6d" stroke="#3c3c3c" stroke-width="0.8"/>
<path d="M239.07 211.20V256.20M236.88 211.20h4.4M236.88 256.20h4.4" stroke="#333" stroke-width="0.95" fill="none"/>
<rect x="253.97" y="232.00" width="6.30" height="2.90" fill="#ececec" stroke="#3c3c3c" stroke-width="0.8"/>
<rect x="254.38" y="232.00" width="2.75" height="2.90" fill="#fff"/>
<rect x="260.48" y="234.90" width="6.30" height="15.80" fill="#6d6d6d" stroke="#3c3c3c" stroke-width="0.8"/>
<path d="M257.12 216.20V249.40M254.93 216.20h4.4M254.93 249.40h4.4" stroke="#333" stroke-width="0.95" fill="none"/>
<path d="M263.62 241.20V259.40M261.43 241.20h4.4M261.43 259.40h4.4" stroke="#333" stroke-width="0.95" fill="none"/>
<line x1="158.6" y1="234.90" x2="271.6" y2="234.90" stroke="#666" stroke-width="0.8" stroke-dasharray="3 2"/>
<rect x="158.60" y="154.50" width="113.00" height="110.70" fill="none" stroke="#505050" stroke-width="1"/>
<line x1="156.4" y1="252.90" x2="158.6" y2="252.90" stroke="#505050" stroke-width="0.8"/>
<text x="154.9" y="256.60" text-anchor="end">-1</text>
<line x1="156.4" y1="234.90" x2="158.6" y2="234.90" stroke="#505050" stroke-width="0.8"/>
<text x="154.9" y="238.60" text-anchor="end">0</text>
<line x1="156.4" y1="216.90" x2="158.6" y2="216.90" stroke="#505050" stroke-width="0.8"/>
<text x="154.9" y="220.60" text-anchor="end">1</text>
<line x1="156.4" y1="198.90" x2="158.6" y2="198.90" stroke="#505050" stroke-width="0.8"/>
<text x="154.9" y="202.60" text-anchor="end">2</text>
<line x1="156.4" y1="180.90" x2="158.6" y2="180.90" stroke="#505050" stroke-width="0.8"/>
<text x="154.9" y="184.60" text-anchor="end">3</text>
<line x1="156.4" y1="162.90" x2="158.6" y2="162.90" stroke="#505050" stroke-width="0.8"/>
<text x="154.9" y="166.60" text-anchor="end">4</text>
<line x1="170.1" y1="265.2" x2="170.1" y2="267.2" stroke="#505050" stroke-width="0.9"/>
<text x="170.1" y="276.0" text-anchor="middle">Ctrl</text>
<line x1="188.2" y1="265.2" x2="188.2" y2="267.2" stroke="#505050" stroke-width="0.9"/>
<text x="188.2" y="276.0" text-anchor="middle">#I</text>
<line x1="206.2" y1="265.2" x2="206.2" y2="267.2" stroke="#505050" stroke-width="0.9"/>
<text x="206.2" y="276.0" text-anchor="middle">#II</text>
<line x1="224.3" y1="265.2" x2="224.3" y2="267.2" stroke="#505050" stroke-width="0.9"/>
<text x="224.3" y="276.0" text-anchor="middle">#III</text>
<line x1="242.3" y1="265.2" x2="242.3" y2="267.2" stroke="#505050" stroke-width="0.9"/>
<text x="242.3" y="276.0" text-anchor="middle">#IV</text>
<line x1="260.4" y1="265.2" x2="260.4" y2="267.2" stroke="#505050" stroke-width="0.9"/>
<text x="260.4" y="276.0" text-anchor="middle">#V</text>
<path d="M182.20 180.50V185.50M180.03 181.75L184.37 184.25M180.03 184.25L184.37 181.75" stroke="#1a1a1a" stroke-width="0.85" fill="none"/>
<path d="M188.00 180.50V185.50M185.83 181.75L190.17 184.25M185.83 184.25L190.17 181.75" stroke="#1a1a1a" stroke-width="0.85" fill="none"/>
<text x="352.3" y="151.8" text-anchor="middle">VEGF-A</text>
<rect x="301.10" y="225.80" width="6.30" height="12.40" fill="#ececec" stroke="#3c3c3c" stroke-width="0.8"/>
<rect x="301.50" y="227.20" width="2.75" height="11.00" fill="#fff"/>
<rect x="307.60" y="210.50" width="6.30" height="15.30" fill="#6d6d6d" stroke="#3c3c3c" stroke-width="0.8"/>
<path d="M304.25 227.20V249.20M302.05 227.20h4.4M302.05 249.20h4.4" stroke="#333" stroke-width="0.95" fill="none"/>
<path d="M310.75 170.50V249.40M308.55 170.50h4.4M308.55 249.40h4.4" stroke="#333" stroke-width="0.95" fill="none"/>
<rect x="319.15" y="200.60" width="6.30" height="25.20" fill="#ececec" stroke="#3c3c3c" stroke-width="0.8"/>
<rect x="319.55" y="200.60" width="2.75" height="25.20" fill="#fff"/>
<rect x="325.65" y="198.00" width="6.30" height="27.80" fill="#6d6d6d" stroke="#3c3c3c" stroke-width="0.8"/>
<path d="M322.30 171.70V229.10M320.10 171.70h4.4M320.10 229.10h4.4" stroke="#333" stroke-width="0.95" fill="none"/>
<path d="M328.80 159.20V236.20M326.60 159.20h4.4M326.60 236.20h4.4" stroke="#333" stroke-width="0.95" fill="none"/>
<rect x="337.20" y="225.80" width="6.30" height="0.30" fill="#ececec" stroke="#3c3c3c" stroke-width="0.8"/>
<rect x="343.70" y="212.50" width="6.30" height="13.30" fill="#6d6d6d" stroke="#3c3c3c" stroke-width="0.8"/>
<path d="M340.35 194.40V257.00M338.15 194.40h4.4M338.15 257.00h4.4" stroke="#333" stroke-width="0.95" fill="none"/>
<path d="M346.85 165.00V260.00M344.65 165.00h4.4M344.65 260.00h4.4" stroke="#333" stroke-width="0.95" fill="none"/>
<rect x="355.25" y="225.80" width="6.30" height="10.40" fill="#ececec" stroke="#3c3c3c" stroke-width="0.8"/>
<rect x="355.65" y="225.80" width="2.75" height="10.40" fill="#fff"/>
<rect x="361.75" y="225.80" width="6.30" height="9.60" fill="#6d6d6d" stroke="#3c3c3c" stroke-width="0.8"/>
<path d="M358.40 220.50V252.00M356.20 220.50h4.4M356.20 252.00h4.4" stroke="#333" stroke-width="0.95" fill="none"/>
<path d="M364.90 222.50V248.70M362.70 222.50h4.4M362.70 248.70h4.4" stroke="#333" stroke-width="0.95" fill="none"/>
<rect x="373.30" y="225.80" width="6.30" height="9.20" fill="#ececec" stroke="#3c3c3c" stroke-width="0.8"/>
<rect x="373.70" y="225.80" width="2.75" height="9.20" fill="#fff"/>
<rect x="379.80" y="225.80" width="6.30" height="18.60" fill="#6d6d6d" stroke="#3c3c3c" stroke-width="0.8"/>
<path d="M376.45 215.50V253.70M374.25 215.50h4.4M374.25 253.70h4.4" stroke="#333" stroke-width="0.95" fill="none"/>
<rect x="391.35" y="218.70" width="6.30" height="7.10" fill="#ececec" stroke="#3c3c3c" stroke-width="0.8"/>
<rect x="391.75" y="218.70" width="2.75" height="7.10" fill="#fff"/>
<rect x="397.85" y="225.80" width="6.30" height="15.40" fill="#6d6d6d" stroke="#3c3c3c" stroke-width="0.8"/>
<path d="M394.50 195.40V242.00M392.30 195.40h4.4M392.30 242.00h4.4" stroke="#333" stroke-width="0.95" fill="none"/>
<path d="M401.00 225.40V257.00M398.80 225.40h4.4M398.80 257.00h4.4" stroke="#333" stroke-width="0.95" fill="none"/>
<line x1="295.8" y1="225.80" x2="408.8" y2="225.80" stroke="#666" stroke-width="0.8" stroke-dasharray="3 2"/>
<rect x="295.80" y="154.50" width="113.00" height="110.70" fill="none" stroke="#505050" stroke-width="1"/>
<line x1="293.6" y1="255.00" x2="295.8" y2="255.00" stroke="#505050" stroke-width="0.8"/>
<text x="292.1" y="258.70" text-anchor="end">-1.0</text>
<line x1="293.6" y1="240.40" x2="295.8" y2="240.40" stroke="#505050" stroke-width="0.8"/>
<text x="292.1" y="244.10" text-anchor="end">-0.5</text>
<line x1="293.6" y1="225.80" x2="295.8" y2="225.80" stroke="#505050" stroke-width="0.8"/>
<text x="292.1" y="229.50" text-anchor="end">0.0</text>
<line x1="293.6" y1="211.20" x2="295.8" y2="211.20" stroke="#505050" stroke-width="0.8"/>
<text x="292.1" y="214.90" text-anchor="end">0.5</text>
<line x1="293.6" y1="196.60" x2="295.8" y2="196.60" stroke="#505050" stroke-width="0.8"/>
<text x="292.1" y="200.30" text-anchor="end">1.0</text>
<line x1="293.6" y1="182.00" x2="295.8" y2="182.00" stroke="#505050" stroke-width="0.8"/>
<text x="292.1" y="185.70" text-anchor="end">1.5</text>
<line x1="293.6" y1="167.40" x2="295.8" y2="167.40" stroke="#505050" stroke-width="0.8"/>
<text x="292.1" y="171.10" text-anchor="end">2.0</text>
<line x1="307.5" y1="265.2" x2="307.5" y2="267.2" stroke="#505050" stroke-width="0.9"/>
<text x="307.5" y="276.0" text-anchor="middle">Ctrl</text>
<line x1="325.6" y1="265.2" x2="325.6" y2="267.2" stroke="#505050" stroke-width="0.9"/>
<text x="325.6" y="276.0" text-anchor="middle">#I</text>
<line x1="343.6" y1="265.2" x2="343.6" y2="267.2" stroke="#505050" stroke-width="0.9"/>
<text x="343.6" y="276.0" text-anchor="middle">#II</text>
<line x1="361.6" y1="265.2" x2="361.6" y2="267.2" stroke="#505050" stroke-width="0.9"/>
<text x="361.6" y="276.0" text-anchor="middle">#III</text>
<line x1="379.7" y1="265.2" x2="379.7" y2="267.2" stroke="#505050" stroke-width="0.9"/>
<text x="379.7" y="276.0" text-anchor="middle">#IV</text>
<line x1="397.8" y1="265.2" x2="397.8" y2="267.2" stroke="#505050" stroke-width="0.9"/>
<text x="397.8" y="276.0" text-anchor="middle">#V</text>
<path d="M309.70 160.00V166.00M308.00 161.80h3.4" stroke="#333" stroke-width="0.9" fill="none"/>
<path d="M319.40 162.80V167.80M317.23 164.05L321.57 166.55M317.23 166.55L321.57 164.05" stroke="#1a1a1a" stroke-width="0.85" fill="none"/>
<path d="M324.80 162.80V167.80M322.63 164.05L326.97 166.55M322.63 166.55L326.97 164.05" stroke="#1a1a1a" stroke-width="0.85" fill="none"/>
<path d="M394.30 186.90V191.90M392.13 188.15L396.47 190.65M392.13 190.65L396.47 188.15" stroke="#1a1a1a" stroke-width="0.85" fill="none"/>
<text x="489.9" y="151.8" text-anchor="middle">MCP-2</text>
<rect x="438.48" y="229.10" width="6.30" height="8.30" fill="#ececec" stroke="#3c3c3c" stroke-width="0.8"/>
<rect x="438.88" y="229.10" width="2.75" height="8.30" fill="#fff"/>
<rect x="444.98" y="223.70" width="6.30" height="5.40" fill="#6d6d6d" stroke="#3c3c3c" stroke-width="0.8"/>
<path d="M441.62 223.70V251.20M439.43 223.70h4.4M439.43 251.20h4.4" stroke="#333" stroke-width="0.95" fill="none"/>
<path d="M448.12 194.20V253.00M445.93 194.20h4.4M445.93 253.00h4.4" stroke="#333" stroke-width="0.95" fill="none"/>
<rect x="456.53" y="206.20" width="6.30" height="22.90" fill="#ececec" stroke="#3c3c3c" stroke-width="0.8"/>
<rect x="456.93" y="206.20" width="2.75" height="12.50" fill="#fff"/>
<rect x="463.03" y="204.50" width="6.30" height="24.60" fill="#6d6d6d" stroke="#3c3c3c" stroke-width="0.8"/>
<path d="M459.68 192.40V218.70M457.48 192.40h4.4M457.48 218.70h4.4" stroke="#333" stroke-width="0.95" fill="none"/>
<path d="M466.18 159.20V249.40M463.98 159.20h4.4M463.98 249.40h4.4" stroke="#333" stroke-width="0.95" fill="none"/>
<rect x="474.58" y="229.10" width="6.30" height="5.10" fill="#ececec" stroke="#3c3c3c" stroke-width="0.8"/>
<rect x="474.98" y="229.10" width="2.75" height="5.10" fill="#fff"/>
<rect x="481.08" y="224.20" width="6.30" height="4.90" fill="#6d6d6d" stroke="#3c3c3c" stroke-width="0.8"/>
<path d="M477.73 215.50V253.00M475.53 215.50h4.4M475.53 253.00h4.4" stroke="#333" stroke-width="0.95" fill="none"/>
<path d="M484.23 206.20V243.00M482.03 206.20h4.4M482.03 243.00h4.4" stroke="#333" stroke-width="0.95" fill="none"/>
<rect x="492.62" y="229.10" width="6.30" height="9.10" fill="#ececec" stroke="#3c3c3c" stroke-width="0.8"/>
<rect x="493.02" y="229.10" width="2.75" height="9.10" fill="#fff"/>
<rect x="499.12" y="226.70" width="6.30" height="2.40" fill="#6d6d6d" stroke="#3c3c3c" stroke-width="0.8"/>
<path d="M495.77 217.50V260.00M493.57 217.50h4.4M493.57 260.00h4.4" stroke="#333" stroke-width="0.95" fill="none"/>
<path d="M502.27 205.40V248.20M500.07 205.40h4.4M500.07 248.20h4.4" stroke="#333" stroke-width="0.95" fill="none"/>
<rect x="510.68" y="223.70" width="6.30" height="5.40" fill="#ececec" stroke="#3c3c3c" stroke-width="0.8"/>
<rect x="511.08" y="223.70" width="2.75" height="5.40" fill="#fff"/>
<rect x="517.18" y="229.10" width="6.30" height="18.90" fill="#6d6d6d" stroke="#3c3c3c" stroke-width="0.8"/>
<path d="M513.83 200.40V247.00M511.63 200.40h4.4M511.63 247.00h4.4" stroke="#333" stroke-width="0.95" fill="none"/>
<rect x="528.73" y="229.10" width="6.30" height="0.30" fill="#ececec" stroke="#3c3c3c" stroke-width="0.8"/>
<rect x="535.23" y="229.10" width="6.30" height="8.30" fill="#6d6d6d" stroke="#3c3c3c" stroke-width="0.8"/>
<path d="M531.88 212.00V245.40M529.67 212.00h4.4M529.67 245.40h4.4" stroke="#333" stroke-width="0.95" fill="none"/>
<path d="M538.38 227.50V246.20M536.17 227.50h4.4M536.17 246.20h4.4" stroke="#333" stroke-width="0.95" fill="none"/>
<line x1="433.4" y1="229.10" x2="546.4" y2="229.10" stroke="#666" stroke-width="0.8" stroke-dasharray="3 2"/>
<rect x="433.40" y="154.50" width="113.00" height="110.70" fill="none" stroke="#505050" stroke-width="1"/>
<line x1="431.2" y1="250.60" x2="433.4" y2="250.60" stroke="#505050" stroke-width="0.8"/>
<text x="429.7" y="254.30" text-anchor="end">-1</text>
<line x1="431.2" y1="229.10" x2="433.4" y2="229.10" stroke="#505050" stroke-width="0.8"/>
<text x="429.7" y="232.80" text-anchor="end">0</text>
<line x1="431.2" y1="207.60" x2="433.4" y2="207.60" stroke="#505050" stroke-width="0.8"/>
<text x="429.7" y="211.30" text-anchor="end">1</text>
<line x1="431.2" y1="186.10" x2="433.4" y2="186.10" stroke="#505050" stroke-width="0.8"/>
<text x="429.7" y="189.80" text-anchor="end">2</text>
<line x1="431.2" y1="164.60" x2="433.4" y2="164.60" stroke="#505050" stroke-width="0.8"/>
<text x="429.7" y="168.30" text-anchor="end">3</text>
<line x1="444.9" y1="265.2" x2="444.9" y2="267.2" stroke="#505050" stroke-width="0.9"/>
<text x="444.9" y="276.0" text-anchor="middle">Ctrl</text>
<line x1="462.9" y1="265.2" x2="462.9" y2="267.2" stroke="#505050" stroke-width="0.9"/>
<text x="462.9" y="276.0" text-anchor="middle">#I</text>
<line x1="481.0" y1="265.2" x2="481.0" y2="267.2" stroke="#505050" stroke-width="0.9"/>
<text x="481.0" y="276.0" text-anchor="middle">#II</text>
<line x1="499.0" y1="265.2" x2="499.0" y2="267.2" stroke="#505050" stroke-width="0.9"/>
<text x="499.0" y="276.0" text-anchor="middle">#III</text>
<line x1="517.1" y1="265.2" x2="517.1" y2="267.2" stroke="#505050" stroke-width="0.9"/>
<text x="517.1" y="276.0" text-anchor="middle">#IV</text>
<line x1="535.1" y1="265.2" x2="535.1" y2="267.2" stroke="#505050" stroke-width="0.9"/>
<text x="535.1" y="276.0" text-anchor="middle">#V</text>
<path d="M457.10 184.00V189.00M454.93 185.25L459.27 187.75M454.93 187.75L459.27 185.25" stroke="#1a1a1a" stroke-width="0.85" fill="none"/>
<path d="M462.70 184.00V189.00M460.53 185.25L464.87 187.75M460.53 187.75L464.87 185.25" stroke="#1a1a1a" stroke-width="0.85" fill="none"/>
<text x="630.1" y="151.8" text-anchor="middle">MIP-1-beta</text>
<rect x="575.85" y="225.00" width="6.30" height="7.00" fill="#ececec" stroke="#3c3c3c" stroke-width="0.8"/>
<rect x="576.25" y="225.00" width="2.75" height="7.00" fill="#fff"/>
<rect x="582.35" y="222.50" width="6.30" height="2.50" fill="#6d6d6d" stroke="#3c3c3c" stroke-width="0.8"/>
<path d="M579.00 221.20V243.20M576.80 221.20h4.4M576.80 243.20h4.4" stroke="#333" stroke-width="0.95" fill="none"/>
<path d="M585.50 192.40V252.00M583.30 192.40h4.4M583.30 252.00h4.4" stroke="#333" stroke-width="0.95" fill="none"/>
<rect x="593.90" y="221.70" width="6.30" height="3.30" fill="#ececec" stroke="#3c3c3c" stroke-width="0.8"/>
<rect x="594.30" y="221.70" width="2.75" height="3.30" fill="#fff"/>
<rect x="600.40" y="168.00" width="6.30" height="57.00" fill="#6d6d6d" stroke="#3c3c3c" stroke-width="0.8"/>
<path d="M597.05 203.20V240.00M594.85 203.20h4.4M594.85 240.00h4.4" stroke="#333" stroke-width="0.95" fill="none"/>
<path d="M603.55 160.00V176.00M601.35 160.00h4.4M601.35 176.00h4.4" stroke="#333" stroke-width="0.95" fill="none"/>
<rect x="611.95" y="225.00" width="6.30" height="5.00" fill="#ececec" stroke="#3c3c3c" stroke-width="0.8"/>
<rect x="612.35" y="225.00" width="2.75" height="5.00" fill="#fff"/>
<rect x="618.45" y="225.00" width="6.30" height="9.20" fill="#6d6d6d" stroke="#3c3c3c" stroke-width="0.8"/>
<path d="M615.10 209.40V251.70M612.90 209.40h4.4M612.90 251.70h4.4" stroke="#333" stroke-width="0.95" fill="none"/>
<path d="M621.60 211.60V256.20M619.40 211.60h4.4M619.40 256.20h4.4" stroke="#333" stroke-width="0.95" fill="none"/>
<rect x="630.00" y="220.00" width="6.30" height="5.00" fill="#ececec" stroke="#3c3c3c" stroke-width="0.8"/>
<rect x="630.40" y="220.00" width="2.75" height="5.00" fill="#fff"/>
<rect x="636.50" y="212.00" width="6.30" height="13.00" fill="#6d6d6d" stroke="#3c3c3c" stroke-width="0.8"/>
<path d="M633.15 196.20V243.70M630.95 196.20h4.4M630.95 243.70h4.4" stroke="#333" stroke-width="0.95" fill="none"/>
<path d="M639.65 193.20V231.20M637.45 193.20h4.4M637.45 231.20h4.4" stroke="#333" stroke-width="0.95" fill="none"/>
<rect x="648.05" y="225.00" width="6.30" height="1.70" fill="#ececec" stroke="#3c3c3c" stroke-width="0.8"/>
<rect x="648.45" y="225.00" width="2.75" height="1.70" fill="#fff"/>
<rect x="654.55" y="225.00" width="6.30" height="9.50" fill="#6d6d6d" stroke="#3c3c3c" stroke-width="0.8"/>
<path d="M651.20 194.20V260.00M649.00 194.20h4.4M649.00 260.00h4.4" stroke="#333" stroke-width="0.95" fill="none"/>
<rect x="666.10" y="221.20" width="6.30" height="3.80" fill="#ececec" stroke="#3c3c3c" stroke-width="0.8"/>
<rect x="666.50" y="221.20" width="2.75" height="3.80" fill="#fff"/>
<rect x="672.60" y="225.00" width="6.30" height="9.20" fill="#6d6d6d" stroke="#3c3c3c" stroke-width="0.8"/>
<path d="M669.25 204.40V237.00M667.05 204.40h4.4M667.05 237.00h4.4" stroke="#333" stroke-width="0.95" fill="none"/>
<path d="M675.75 227.50V240.50M673.55 227.50h4.4M673.55 240.50h4.4" stroke="#333" stroke-width="0.95" fill="none"/>
<line x1="570.6" y1="225.00" x2="683.6" y2="225.00" stroke="#666" stroke-width="0.8" stroke-dasharray="3 2"/>
<rect x="570.60" y="154.50" width="113.00" height="110.70" fill="none" stroke="#505050" stroke-width="1"/>
<line x1="568.4" y1="248.90" x2="570.6" y2="248.90" stroke="#505050" stroke-width="0.8"/>
<text x="566.9" y="252.60" text-anchor="end">-1</text>
<line x1="568.4" y1="225.00" x2="570.6" y2="225.00" stroke="#505050" stroke-width="0.8"/>
<text x="566.9" y="228.70" text-anchor="end">0</text>
<line x1="568.4" y1="201.10" x2="570.6" y2="201.10" stroke="#505050" stroke-width="0.8"/>
<text x="566.9" y="204.80" text-anchor="end">1</text>
<line x1="568.4" y1="177.20" x2="570.6" y2="177.20" stroke="#505050" stroke-width="0.8"/>
<text x="566.9" y="180.90" text-anchor="end">2</text>
<line x1="582.2" y1="265.2" x2="582.2" y2="267.2" stroke="#505050" stroke-width="0.9"/>
<text x="582.2" y="276.0" text-anchor="middle">Ctrl</text>
<line x1="600.3" y1="265.2" x2="600.3" y2="267.2" stroke="#505050" stroke-width="0.9"/>
<text x="600.3" y="276.0" text-anchor="middle">#I</text>
<line x1="618.4" y1="265.2" x2="618.4" y2="267.2" stroke="#505050" stroke-width="0.9"/>
<text x="618.4" y="276.0" text-anchor="middle">#II</text>
<line x1="636.4" y1="265.2" x2="636.4" y2="267.2" stroke="#505050" stroke-width="0.9"/>
<text x="636.4" y="276.0" text-anchor="middle">#III</text>
<line x1="654.5" y1="265.2" x2="654.5" y2="267.2" stroke="#505050" stroke-width="0.9"/>
<text x="654.5" y="276.0" text-anchor="middle">#IV</text>
<line x1="672.5" y1="265.2" x2="672.5" y2="267.2" stroke="#505050" stroke-width="0.9"/>
<text x="672.5" y="276.0" text-anchor="middle">#V</text>
<path d="M600.80 155.40V158.60M599.41 156.20L602.19 157.80M599.41 157.80L602.19 156.20" stroke="#1a1a1a" stroke-width="0.8" fill="none"/>
<path d="M605.40 153.40V159.40M603.70 155.20h3.4" stroke="#333" stroke-width="0.9" fill="none"/>
<text transform="translate(8.6 69.5) rotate(-90)" text-anchor="middle" style="font-size:10px">Concentration (normalized)</text>
<text transform="translate(8.6 213.2) rotate(-90)" text-anchor="middle" style="font-size:10px">Concentration (normalized)</text>
<rect x="290.6" y="285.8" width="16" height="5.6" rx="0.8" fill="#f3f3f3" stroke="#666" stroke-width="1"/>
<text x="311.5" y="291.5">No myoma</text>
<rect x="364.4" y="285.8" width="16.2" height="5.6" rx="0.8" fill="#6f6f6f" stroke="#555" stroke-width="0.9"/>
<text x="385" y="291.5">Myoma</text>
</svg>
</body></html>
